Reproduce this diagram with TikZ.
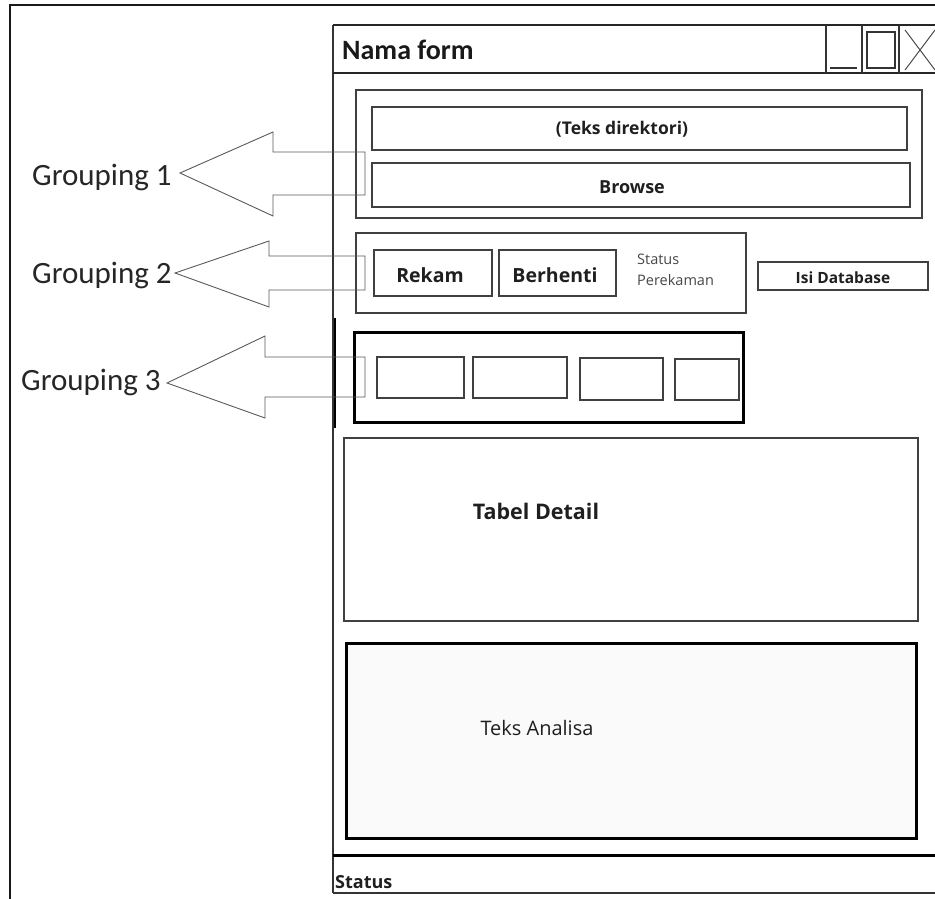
\documentclass[tikz,border=0pt]{standalone}
\usepackage{fontspec}
\setmainfont{Open Sans}
\newfontfamily\calib{Carlito}
\begin{document}
\begin{tikzpicture}[x=1pt,y=-1pt,
  outer/.style={draw=black!90, line width=2pt},
  winline/.style={draw=black!80, line width=1.4pt},
  box/.style={draw=black!75, line width=1.2pt},
  heavybox/.style={draw=black, line width=3pt},
  callout/.style={draw=black!65, line width=0.9pt, line join=miter},
  lbl/.style={text=black!88, inner sep=0pt, anchor=base},
  smalllbl/.style={font=\fontsize{14.5}{16}\selectfont, text=black!72, inner sep=0pt, anchor=base west},
  grp/.style={font=\calib\fontsize{31}{34}\selectfont, text=black!85, inner sep=0pt, anchor=base west}
]
\useasboundingbox (0,0) rectangle (935,899);

% faint band on the left edge
\shade[top color=white, middle color=blue!20!gray!30, bottom color=white] (0,590) rectangle (9,780);

% outer sheet border
\draw[outer] (935,5) -- (10,5) -- (10,899);

% ---------- form window ----------
\draw[winline] (333,25) -- (333,893);
\draw[draw=black!85, line width=2pt] (333,25) -- (935,25);
\draw[draw=black!85, line width=1.8pt] (333,73) -- (935,73);
\node[font=\calib\bfseries\fontsize{28}{30}\selectfont, anchor=west, inner sep=0pt, text=black!90] (title) at (342,50) {Nama form};

% title bar buttons
\draw[winline] (826,25) -- (826,73) (862,25) -- (862,73) (899,25) -- (899,73);
\draw[winline] (830,68) -- (857,68);
\draw[winline] (867,32) rectangle (895,68);
\draw[draw=black!70, line width=1pt] (905,30) -- (935,70) (905,70) -- (935,30);

% grouping 1
\draw[box] (356,90) rectangle (922,218);
\draw[box] (372,107) rectangle (907,150);
\node[lbl, font=\bfseries\fontsize{17.5}{20}\selectfont] (dir) at (622,135) {(Teks direktori)};
\draw[box] (372,163) rectangle (910,207);
\node[lbl, font=\bfseries\fontsize{18}{20}\selectfont] (browse) at (632,193) {Browse};

% grouping 2
\draw[box] (356,233) rectangle (746,313);
\draw[box] (374,250) rectangle (492,296);
\node[lbl, font=\bfseries\fontsize{19.5}{22}\selectfont] (rekam) at (430,282) {Rekam};
\draw[box] (499,250) rectangle (616,296);
\node[lbl, font=\bfseries\fontsize{19.5}{22}\selectfont] (berhenti) at (555,282) {Berhenti};
\node[smalllbl] (st1) at (637,264) {Status};
\node[smalllbl] (st2) at (637,285) {Perekaman};
\draw[box] (758,262) rectangle (928,290);
\node[lbl, font=\bfseries\fontsize{15.5}{18}\selectfont] (isi) at (843,283) {Isi Database};

% grouping 3
\draw[heavybox] (354,332) rectangle (743,422);
\draw[box] (377,357) rectangle (464,398);
\draw[box] (473,357) rectangle (567,398);
\draw[box] (580,358) rectangle (663,400);
\draw[box] (675,359) rectangle (739,400);
\draw[draw=black, line width=2.5pt] (335,318) -- (335,428);

% detail table
\draw[box] (344,438) rectangle (918,621);
\node[lbl, font=\bfseries\fontsize{21.5}{24}\selectfont] (tabel) at (536,519) {Tabel Detail};

% analysis text area
\draw[heavybox, fill=black!2] (346,643) rectangle (916,838);
\node[lbl, font=\fontsize{20}{23}\selectfont] (analisa) at (537,735) {Teks Analisa};

% status bar
\draw[draw=black, line width=3pt] (333,855) -- (935,855);
\draw[winline] (333,893) -- (935,893);
\node[lbl, font=\bfseries\fontsize{18}{20}\selectfont, anchor=base west] (status) at (335,888) {Status};

% ---------- grouping callouts ----------
\node[grp] (g1) at (32,185) {Grouping 1};
\node[grp] (g2) at (32,283) {Grouping 2};
\node[grp] (g3) at (21,390) {Grouping 3};

\draw[callout] (180,173) -- (273,132) -- (273,152) -- (365,152) -- (365,195) -- (273,195) -- (273,216) -- cycle;
\draw[callout] (175,273) -- (269,241) -- (269,256) -- (365,256) -- (365,290) -- (269,290) -- (269,307) -- cycle;
\draw[callout] (167,383) -- (265,336) -- (265,357) -- (365,357) -- (365,397) -- (265,397) -- (265,418) -- cycle;
\end{tikzpicture}
\end{document}
